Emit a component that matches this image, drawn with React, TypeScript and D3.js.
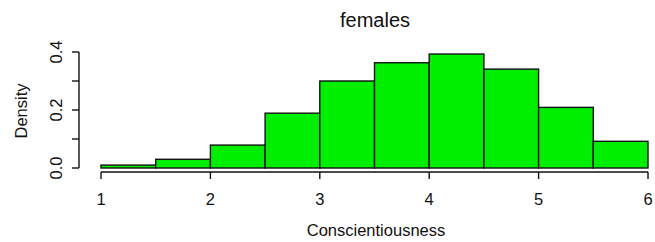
import React from "react";
import * as d3 from "d3";

// histogram bins (left edges) and density heights
const binStarts = [1, 1.5, 2, 2.5, 3, 3.5, 4, 4.5, 5, 5.5];
const densities = [0.01, 0.03, 0.079, 0.189, 0.3, 0.363, 0.393, 0.341, 0.209, 0.092];
const xTicks = [1, 2, 3, 4, 5, 6];
const yTicks = [0, 0.1, 0.2, 0.3, 0.4];
const yLabels = [0, 0.2, 0.4];

const width = 655;
const height = 242;
const binWidth = 0.5;

const App = () => {
  const x = d3.scaleLinear().domain([1, 6]).range([101, 648]);
  const y = d3.scaleLinear().domain([0, 0.4]).range([168, 52]);
  const fmt = d3.format(".1f");
  const font = "Liberation Sans, Arial, sans-serif";
  const axisY = 172;
  const axisX = 79;
  const tick = 7;
  const ink = "#111";

  return (
    <svg
      width={width}
      height={height}
      style={{ position: "absolute", left: 0, top: 0 }}
      fontFamily={font}
    >
      <rect width={width} height={height} fill="white" />
      <text x={375} y={27} textAnchor="middle" fontSize={20} fill={ink}>
        females
      </text>

      {/* bars */}
      {binStarts.map((b, i) => (
        <rect
          key={i}
          x={x(b)}
          y={y(densities[i])}
          width={x(b + binWidth) - x(b)}
          height={y(0) - y(densities[i])}
          fill="#00ee00"
          stroke={ink}
          strokeWidth={1.4}
        />
      ))}

      {/* x axis */}
      <line x1={x(1)} x2={x(6)} y1={axisY} y2={axisY} stroke={ink} strokeWidth={1.4} />
      {xTicks.map((t) => (
        <g key={t}>
          <line x1={x(t)} x2={x(t)} y1={axisY} y2={axisY + tick} stroke={ink} strokeWidth={1.4} />
          <text x={x(t)} y={205} textAnchor="middle" fontSize={16.5} fill={ink}>
            {t}
          </text>
        </g>
      ))}
      <text x={376} y={236} textAnchor="middle" fontSize={16.5} fill={ink}>
        Conscientiousness
      </text>

      {/* y axis */}
      <line x1={axisX} x2={axisX} y1={y(0)} y2={y(0.4)} stroke={ink} strokeWidth={1.4} />
      {yTicks.map((t) => (
        <line key={t} x1={axisX - tick} x2={axisX} y1={y(t)} y2={y(t)} stroke={ink} strokeWidth={1.4} />
      ))}
      {yLabels.map((t) => (
        <text
          key={t}
          transform={`translate(${62},${y(t)}) rotate(-90)`}
          textAnchor="middle"
          fontSize={16.5}
          fill={ink}
        >
          {fmt(t)}
        </text>
      ))}
      <text
        transform={`translate(${27},${111}) rotate(-90)`}
        textAnchor="middle"
        fontSize={16.5}
        fill={ink}
      >
        Density
      </text>
    </svg>
  );
};

export default App;
